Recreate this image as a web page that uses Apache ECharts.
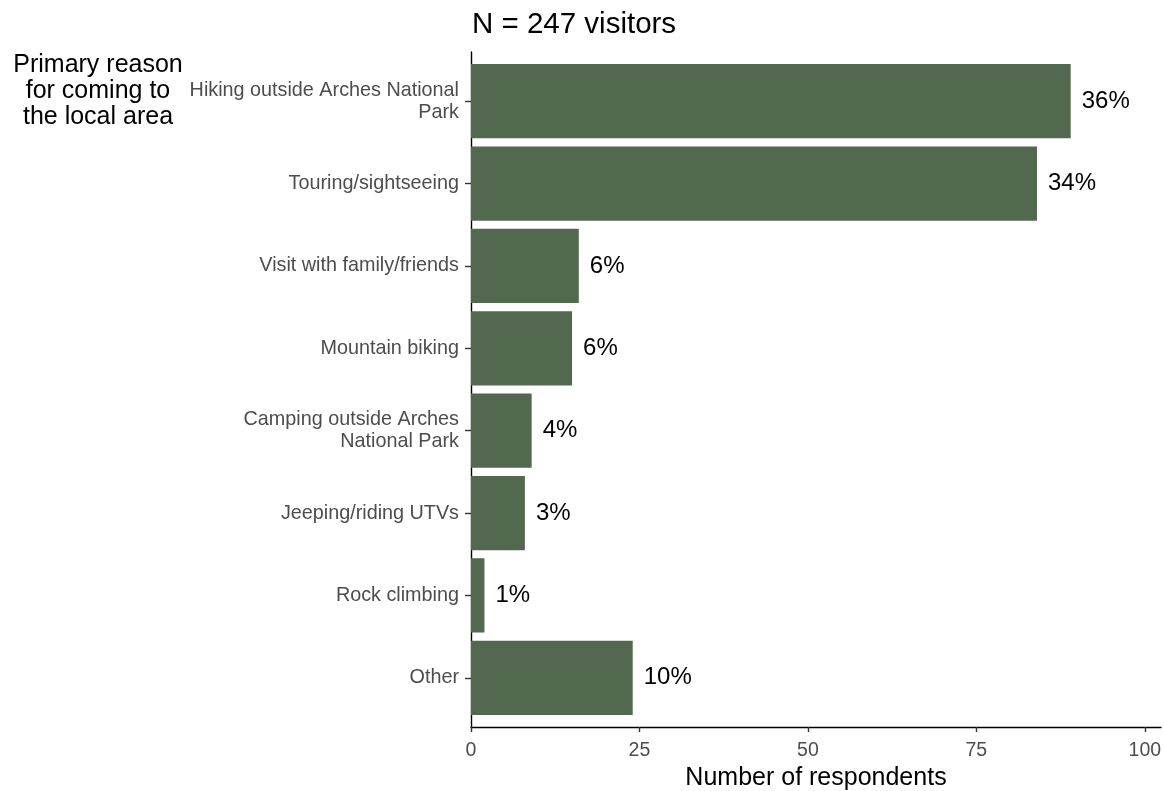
<!DOCTYPE html>
<html>
<head>
<meta charset="utf-8">
<title>Primary reason for coming to the local area</title>
<script src="https://cdn.jsdelivr.net/npm/echarts@6/dist/echarts.min.js"></script>
<style>
    html, body { margin: 0; padding: 0; background: #fff; }
    #chart { width: 1164px; height: 791px; }
</style>
</head>
<body>
<div id="chart"></div>
<script>
// data
var categories = [
    'Hiking outside Arches National\nPark',
    'Touring/sightseeing',
    'Visit with family/friends',
    'Mountain biking',
    'Camping outside Arches\nNational Park',
    'Jeeping/riding UTVs',
    'Rock climbing',
    'Other'
];
var respondents = [89, 84, 16, 15, 9, 8, 2, 24];
var percentLabels = ['36%', '34%', '6%', '6%', '4%', '3%', '1%', '10%'];
var xTicks = [0, 25, 50, 75, 100];
var xMax = 102.4;

var fontFamily = '"Liberation Sans", Arial, sans-serif';
var barColor = '#53694f';

var option = {
    backgroundColor: '#fff',
    animation: false,
    textStyle: { fontFamily: fontFamily },
    graphic: [
        {
            type: 'text',
            left: 472,
            top: 10,
            style: {
                text: 'N = 247 visitors',
                fontSize: 29.5,
                fontFamily: fontFamily,
                fill: '#000'
            }
        }, {
            type: 'text',
            x: 98,
            y: 91,
            style: {
                text: 'Primary reason\nfor coming to\nthe local area',
                fontSize: 25,
                lineHeight: 26,
                fontFamily: fontFamily,
                fill: '#000',
                align: 'center',
                verticalAlign: 'middle'
            }
        }
    ],
    grid: [
        // bars: band area without ggplot padding
        { left: 471, right: 3, top: 60, bottom: 72, outerBoundsMode: 'none' },
        // axis lines: full panel
        { left: 471, right: 3, top: 52, bottom: 64, outerBoundsMode: 'none' }
    ],
    xAxis: [
        {
            type: 'value',
            gridIndex: 0,
            min: 0,
            max: xMax,
            show: false
        }, {
            type: 'value',
            gridIndex: 1,
            min: 0,
            max: xMax,
            name: 'Number of respondents',
            nameLocation: 'middle',
            nameGap: 28,
            nameTextStyle: {
                fontSize: 25,
                color: '#000',
                fontFamily: fontFamily
            },
            axisLine: {
                show: true,
                lineStyle: { color: '#000', width: 1.4 }
            },
            axisTick: {
                show: true,
                length: 5,
                customValues: xTicks,
                lineStyle: { color: '#333', width: 1.4 }
            },
            axisLabel: {
                customValues: xTicks,
                margin: 14,
                fontSize: 19.5,
                color: '#4d4d4d',
                fontFamily: fontFamily
            },
            splitLine: { show: false }
        }
    ],
    yAxis: [
        {
            type: 'category',
            gridIndex: 0,
            inverse: true,
            data: categories,
            axisLine: { show: false },
            axisTick: {
                show: true,
                alignWithLabel: true,
                length: 6,
                lineStyle: { color: '#333', width: 1.4 }
            },
            axisLabel: {
                margin: 12,
                fontSize: 19.8,
                lineHeight: 22,
                padding: [6, 0, 0, 0],
                color: '#4d4d4d',
                fontFamily: fontFamily
            },
            splitLine: { show: false }
        }, {
            type: 'value',
            gridIndex: 1,
            min: 0,
            max: 1,
            axisLine: {
                show: true,
                lineStyle: { color: '#000', width: 1.4 }
            },
            axisTick: { show: false },
            axisLabel: { show: false },
            splitLine: { show: false }
        }
    ],
    series: [
        {
            type: 'bar',
            xAxisIndex: 0,
            yAxisIndex: 0,
            barCategoryGap: '10%',
            itemStyle: { color: barColor },
            label: {
                show: true,
                position: 'right',
                distance: 11,
                fontSize: 24,
                padding: [4, 0, 0, 0],
                color: '#000',
                fontFamily: fontFamily,
                formatter: function (params) {
                    return percentLabels[params.dataIndex];
                }
            },
            data: respondents
        }
    ]
};

var myChart = echarts.init(document.getElementById('chart'));
myChart.setOption(option);
</script>
</body>
</html>
